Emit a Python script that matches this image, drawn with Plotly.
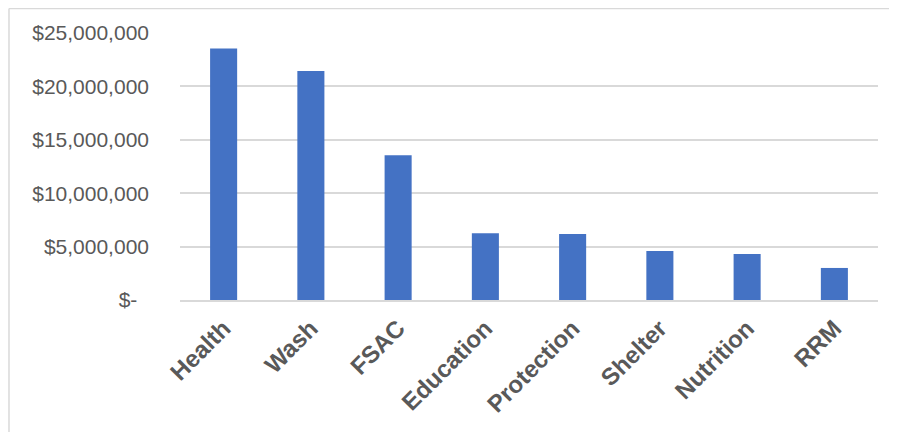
import plotly.graph_objects as go

categories = ["Health", "Wash", "FSAC", "Education", "Protection", "Shelter", "Nutrition", "RRM"]
funding = [23560000, 21440000, 13560000, 6250000, 6190000, 4590000, 4310000, 3000000]
y_tickvals = [0, 5000000, 10000000, 15000000, 20000000, 25000000]
y_ticktext = ["$-\u00a0\u00a0", "$5,000,000", "$10,000,000", "$15,000,000", "$20,000,000", "$25,000,000"]

fig = go.Figure(go.Bar(
    x=categories, y=funding,
    marker=dict(color="#4472C4", line=dict(width=0)),
    width=0.31,
))

grid = "#D9D9D9"
fig.update_layout(
    width=889, height=424,
    margin=dict(l=172, r=19, t=25, b=132),
    paper_bgcolor="white", plot_bgcolor="white",
    showlegend=False,
    font=dict(family="Liberation Sans, Arial, sans-serif", color="#595959"),
    xaxis=dict(
        tickangle=-45,
        tickfont=dict(size=24, family="Liberation Sans, Arial, sans-serif", color="#595959", weight="bold"),
        showline=True, linecolor=grid, linewidth=1.5,
        showgrid=False, ticks="",
        ticklabelstandoff=3,
    ),
    yaxis=dict(
        range=[0, 25000000],
        tickvals=y_tickvals, ticktext=y_ticktext,
        tickfont=dict(size=21, color="#595959"),
        showgrid=True, gridcolor=grid, gridwidth=1.5,
        zeroline=False, showline=False, ticks="",
        ticklabelstandoff=30,
    ),
    shapes=[
        dict(type="line", xref="paper", yref="paper", x0=-0.245, x1=1.2, y0=1.092, y1=1.092,
             line=dict(color=grid, width=1.5)),
        dict(type="line", xref="paper", yref="paper", x0=-0.245, x1=-0.245, y0=1.092, y1=-0.6,
             line=dict(color=grid, width=1.5)),
    ],
)

fig.write_html("out.html")
